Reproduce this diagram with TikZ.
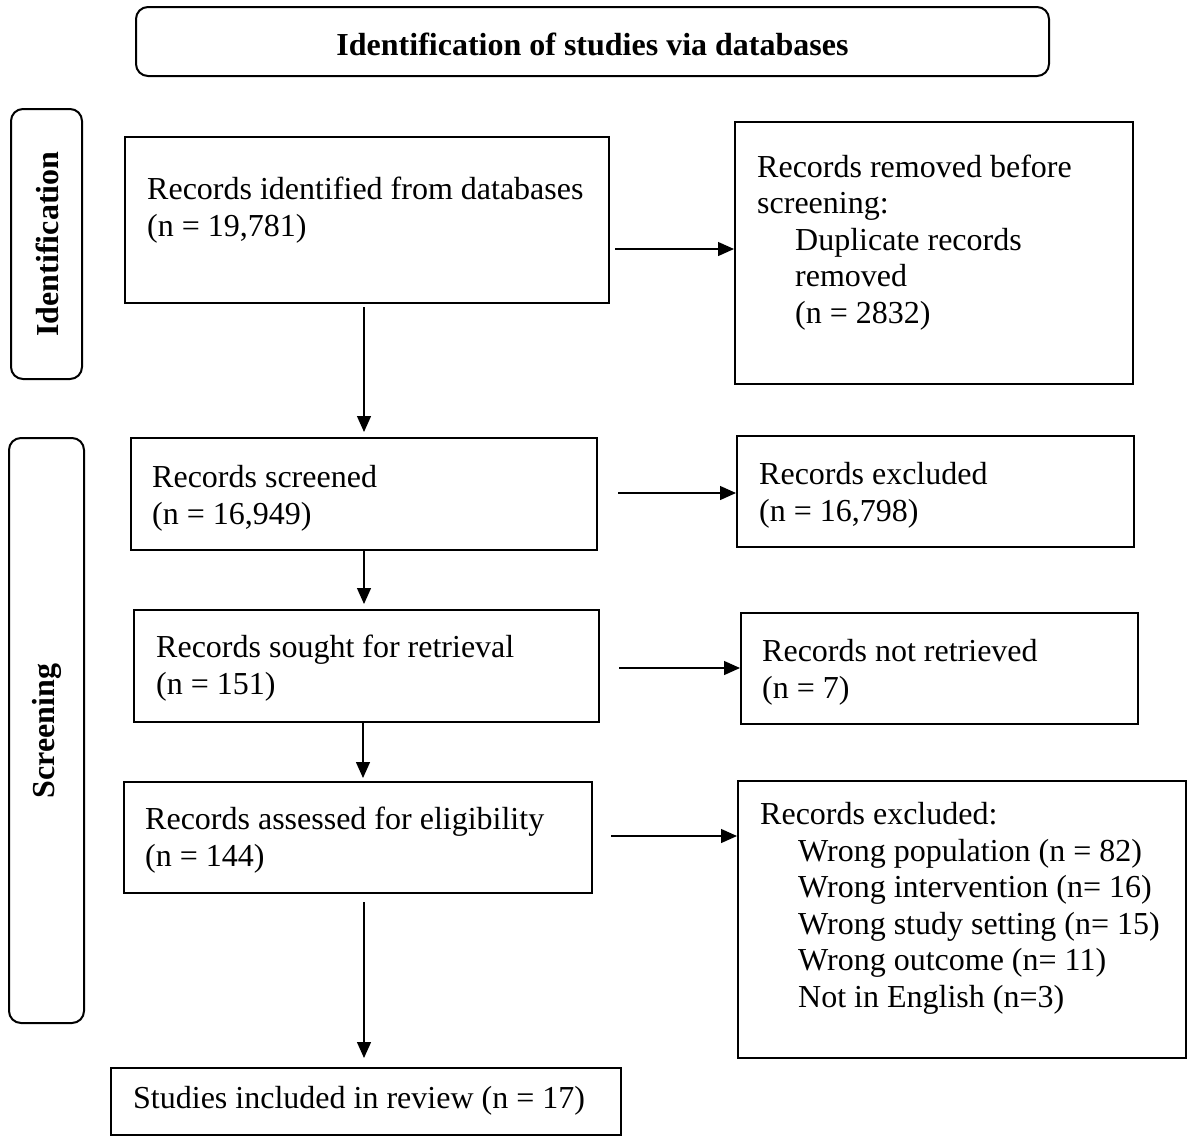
\documentclass[tikz,border=0pt]{standalone}
\usepackage{fontspec}
\setmainfont{Liberation Serif}
\usetikzlibrary{arrows.meta,calc}
\tikzset{
  boxnode/.style={draw, line width=2pt, minimum width=#1, inner sep=0pt},
  roundbox/.style={draw, line width=2pt, rounded corners=12pt, inner sep=0pt},
  txt/.style={anchor=base west, inner sep=0pt, align=left, font=\fontsize{32}{36.5}\selectfont},
  bold/.style={inner sep=0pt, font=\fontsize{32}{36.5}\selectfont\bfseries},
  arr/.style={line width=1.3pt, -{Triangle[length=16pt,width=14pt]}},
}
\begin{document}
\begin{tikzpicture}[x=1pt,y=-1pt]
\useasboundingbox (0,0) rectangle (1188,1136);
% title and phase labels
\node[roundbox, minimum width=913pt, minimum height=69pt] (title) at (592.5,41.5) {};
\node[bold] (titletxt) at (592.5,44) {Identification of studies via databases};
\node[roundbox, minimum width=71pt, minimum height=270pt] (idbox) at (46.5,244) {};
\node[bold, rotate=90] (idtxt) at (47,244) {Identification};
\node[roundbox, minimum width=75pt, minimum height=585pt] (scrbox) at (46.5,730.5) {};
\node[bold, rotate=90] (scrtxt) at (47,731) {Screening};
% boxes
\node[boxnode=484pt, minimum height=166pt] (b1) at (367,220) {};
\node[boxnode=398pt, minimum height=262pt] (rem) at (934,253) {};
\node[boxnode=466pt, minimum height=112pt] (scr) at (364,494) {};
\node[boxnode=397pt, minimum height=111pt] (exc1) at (935.5,491.5) {};
\node[boxnode=465pt, minimum height=112pt] (sou) at (366.5,666) {};
\node[boxnode=397pt, minimum height=111pt] (nr) at (939.5,668.5) {};
\node[boxnode=468pt, minimum height=111pt] (ass) at (358,837.5) {};
\node[boxnode=448pt, minimum height=277pt] (exc2) at (962,919.5) {};
\node[boxnode=510pt, minimum height=67pt] (stu) at (366,1101.5) {};
% texts (anchor = baseline of the last line)
\node[txt] (t1) at (147,236) {Records identified from databases\\(n = 19,781)};
\node[txt] (trem) at (757,323) {Records removed before\\screening:\\\hspace*{38pt}Duplicate records\\\hspace*{38pt}removed\\\hspace*{38pt}(n = 2832)};
\node[txt] (tscr) at (152,524) {Records screened\\(n = 16,949)};
\node[txt] (texc1) at (759,521) {Records excluded\\(n = 16,798)};
\node[txt] (tsou) at (156,694) {Records sought for retrieval\\(n = 151)};
\node[txt] (tnr) at (762,698) {Records not retrieved\\(n = 7)};
\node[txt] (tass) at (145,866) {Records assessed for eligibility\\(n = 144)};
\node[txt] (texc2) at (760,1007) {Records excluded:\\\hspace*{38pt}Wrong population (n = 82)\\\hspace*{38pt}Wrong intervention (n= 16)\\\hspace*{38pt}Wrong study setting (n= 15)\\\hspace*{38pt}Wrong outcome (n= 11)\\\hspace*{38pt}Not in English (n=3)};
\node[txt] (tstu) at (133,1108) {Studies included in review (n = 17)};
% connectors
\coordinate (h1) at (615,249);
\coordinate (h2) at (618,493);
\coordinate (h3) at (619,668);
\coordinate (h4) at (611,836);
\draw[arr] (h1) -- (h1 -| rem.west);
\draw[arr] (h2) -- (h2 -| exc1.west);
\draw[arr] (h3) -- (h3 -| nr.west);
\draw[arr] (h4) -- (h4 -| exc2.west);
\coordinate (v1) at (364,307);
\coordinate (v2) at (364,551);
\coordinate (v3) at (363,723);
\coordinate (v4) at (364,902);
\draw[arr, shorten >=5pt] (v1) -- (v1 |- scr.north);
\draw[arr, shorten >=5pt] (v2) -- (v2 |- sou.north);
\draw[arr, shorten >=3pt] (v3) -- (v3 |- ass.north);
\draw[arr, shorten >=9pt] (v4) -- (v4 |- stu.north);
\end{tikzpicture}
\end{document}
